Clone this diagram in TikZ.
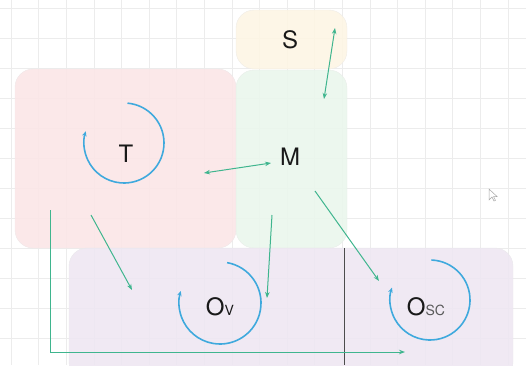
\documentclass[tikz,border=0pt]{standalone}
\usepackage{fontspec}
\setmainfont{TeX Gyre Heros}
\usetikzlibrary{arrows.meta}
\definecolor{tpink}{HTML}{FBE6E7}
\definecolor{mgreen}{HTML}{EAF6EC}
\definecolor{syellow}{HTML}{FDF5E4}
\definecolor{olav}{HTML}{EEE7F2}
\definecolor{flowgreen}{HTML}{3FB58E}
\definecolor{loopblue}{HTML}{3FA9DD}
\definecolor{gridgrey}{HTML}{ECECEC}
\begin{document}
\begin{tikzpicture}[x=1pt,y=-1pt]

    \tikzset{
      part/.style={
        draw=#1!85!black!40,
        fill=#1,
        fill opacity=0.9,
        rounded corners=18pt,
        line width=0.4pt,
      },
      letter/.style={
        text=black!90,
        font=\fontsize{24}{24}\selectfont,
        inner sep=0pt,
      },
      flow/.style={
        color=flowgreen,
        line width=1pt,
        -{Stealth[length=6pt,width=4.5pt]},
      },
      loop/.style={
        color=loopblue,
        line width=1.6pt,
        -{Stealth[length=5pt,width=4.5pt]},
      },
    }
    \useasboundingbox (0,0) rectangle (526,365);
    % faint grid
    \foreach \gx in {11,38.6,...,526} \draw[gridgrey,line width=0.6pt] (\gx,0)--(\gx,365);
    \foreach \gy in {8,38,...,365} \draw[gridgrey,line width=0.6pt] (0,\gy)--(526,\gy);
    % the parts
    \draw[part=tpink] (15,69) rectangle (236,248);
    \draw[part=mgreen] (236,70) rectangle (347,248);
    \draw[part=syellow] (236,10) rectangle (347,69);
    \draw[part=olav] (69,248) rectangle (513,380);
    \draw[color={black!70},line width=0.8pt] (344,248)--(344,365);
    % labels
    \node[letter] (lblS) at (290,40) {S};
    \node[letter] (lblT) at (126,154) {T};
    \node[letter] (lblM) at (290,157) {M};
    \node[letter,anchor=base] (lblOv) at (220,315) {O{\fontsize{14}{14}\selectfont V}};
    \node[letter,anchor=base] (lblOsc) at (426,315) {O{\fontsize{14}{14}\selectfont\color{black!65}SC}};
    % self loops
    \draw[loop] (124,143) ++(-85:40) arc[start angle=-85,end angle=197,radius=40];
    \draw[loop] (220,303) ++(-80:41) arc[start angle=-80,end angle=197,radius=41];
    \draw[loop] (430,300) ++(-88:40) arc[start angle=-88,end angle=198,radius=40];
    % connector ends
    \coordinate (sEnd) at (335,28);
    \coordinate (mTop) at (324,99);
    \coordinate (tRight) at (204,173);
    \coordinate (mLeft) at (271,163);
    \coordinate (mLow) at (272,215);
    \coordinate (ovIn) at (267,298);
    \coordinate (mDiag) at (315,191);
    \coordinate (oscIn) at (379,281);
    \coordinate (tLow) at (91,215);
    \coordinate (ovLeft) at (132,290);
    \coordinate (tFoot) at (50,210);
    \coordinate (oscFoot) at (405,352);
    % flows
    \draw[flow,{Stealth[length=6pt,width=4.5pt]}-{Stealth[length=6pt,width=4.5pt]}] (sEnd)--(mTop);
    \draw[flow,{Stealth[length=6pt,width=4.5pt]}-{Stealth[length=6pt,width=4.5pt]}] (tRight)--(mLeft);
    \draw[flow] (mLow)--(ovIn);
    \draw[flow] (mDiag)--(oscIn);
    \draw[flow] (tLow)--(ovLeft);
    \draw[flow] (tFoot)|-(oscFoot);
    % pointer
    \draw[black!35,fill=white,line width=0.5pt] (489,189)--(489,200)--(492,197)--(494,201)--(495.5,200.3)--(493.5,196.5)--(497,196.5)--cycle;

\end{tikzpicture}
\end{document}
